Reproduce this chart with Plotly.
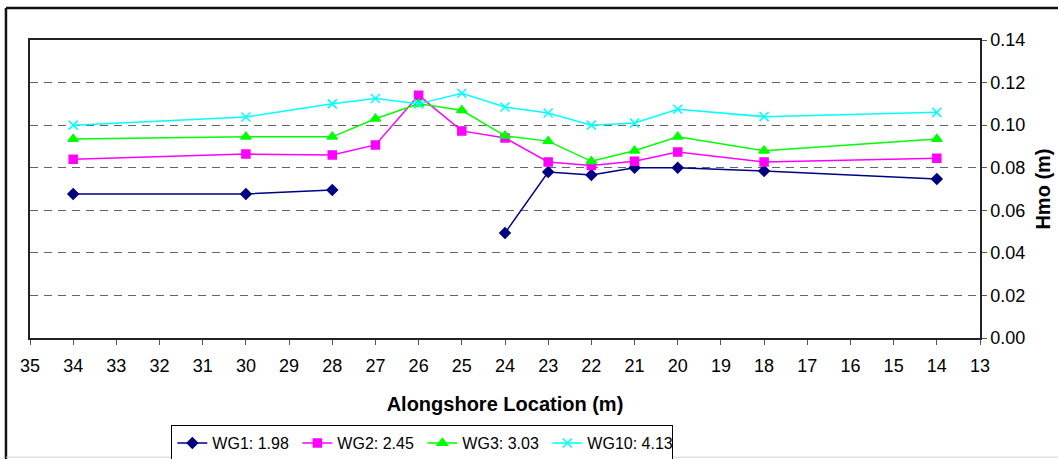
import plotly.graph_objects as go

locations = [34, 30, 28, 27, 26, 25, 24, 23, 22, 21, 20, 18, 14]

wg1 = [0.0677, 0.0677, 0.0695, None, None, None, 0.0493, 0.078, 0.0766, 0.080, 0.080, 0.0785, 0.0747]
wg2 = [0.084, 0.0864, 0.086, 0.0907, 0.114, 0.0973, 0.094, 0.0827, 0.081, 0.083, 0.0874, 0.0827, 0.0845]
wg3 = [0.0935, 0.0945, 0.0945, 0.103, 0.110, 0.107, 0.095, 0.0925, 0.083, 0.088, 0.0945, 0.088, 0.0935]
wg10 = [0.100, 0.1038, 0.110, 0.1125, 0.110, 0.115, 0.1085, 0.1057, 0.100, 0.101, 0.1075, 0.104, 0.106]

series = [
    ("WG1: 1.98", wg1, "#000080", "diamond", 8),
    ("WG2: 2.45", wg2, "#FF00FF", "square", 8),
    ("WG3: 3.03", wg3, "#00FF00", "triangle-up", 9),
    ("WG10: 4.13", wg10, "#00FFFF", "x-thin-open", 9),
]

fig = go.Figure()
for name, vals, color, symbol, size in series:
    fig.add_trace(
        go.Scatter(
            x=locations,
            y=vals,
            name=name,
            mode="lines+markers",
            line=dict(color=color, width=1.5),
            marker=dict(symbol=symbol, size=size, color=color,
                        line=dict(color=color, width=1.5)),
            connectgaps=False,
        )
    )

font = "Liberation Sans, Arial, sans-serif"

# outer chart frame (left and top edges visible in the reference)
fig.add_shape(type="line", xref="paper", yref="paper",
              x0=-0.0253, x1=-0.0253, y0=1.107, y1=-0.41,
              line=dict(color="#111111", width=2.5))
fig.add_shape(type="line", xref="paper", yref="paper",
              x0=-0.0253, x1=1.2, y0=1.107, y1=1.107,
              line=dict(color="#111111", width=2.5))
fig.add_shape(type="line", xref="paper", yref="paper",
              x0=-0.0253, x1=1.2, y0=-0.4, y1=-0.4,
              line=dict(color="#d0d0d0", width=1))

fig.update_layout(
    width=1058,
    height=459,
    margin=dict(l=30, r=78, t=40, b=121, autoexpand=False),
    paper_bgcolor="white",
    plot_bgcolor="white",
    font=dict(family=font, size=18, color="black"),
    showlegend=True,
    legend=dict(
        orientation="h",
        x=0.413,
        xanchor="center",
        y=-0.292,
        yanchor="top",
        bordercolor="black",
        borderwidth=1,
        font=dict(size=16),
        itemwidth=30,
        entrywidth=80,
        entrywidthmode="pixels",
        tracegroupgap=0,
    ),
    xaxis=dict(
        range=[35, 13],
        tickmode="linear",
        tick0=13,
        dtick=1,
        ticks="outside",
        ticklen=5,
        tickcolor="#555555",
        showgrid=False,
        zeroline=False,
        showline=True,
        linecolor="#222222",
        linewidth=1.5,
        mirror=True,
        automargin=False,
        ticklabelstandoff=6,
        tickfont=dict(size=18),
        title=dict(text="<b>Alongshore Location (m)</b>", font=dict(size=20), standoff=22),
    ),
    yaxis=dict(
        side="right",
        range=[0, 0.14],
        tickmode="linear",
        tick0=0,
        dtick=0.02,
        tickformat=".2f",
        ticks="outside",
        ticklen=5,
        tickcolor="#555555",
        showgrid=True,
        gridcolor="#666666",
        griddash="8px,6px",
        gridwidth=1,
        zeroline=False,
        showline=True,
        linecolor="#222222",
        linewidth=1.5,
        mirror=True,
        automargin=False,
        tickfont=dict(size=18),
        title=dict(text="<b>Hmo (m)</b>", font=dict(size=20), standoff=12),
    ),
)

# the page's default body margin would shift the chart by 8px
fig.write_html("out.html", config={"displayModeBar": False},
               post_script="document.body.style.margin='0px';")
